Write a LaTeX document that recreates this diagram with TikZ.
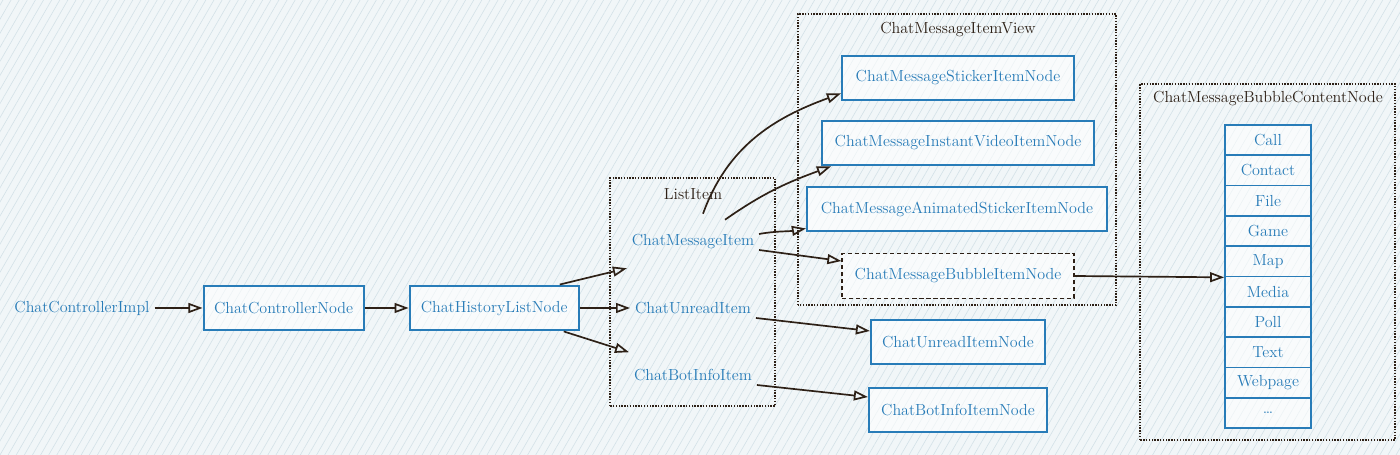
\documentclass[tikz,border=0pt]{standalone}
\usepackage{tikz}
\usetikzlibrary{arrows.meta,positioning,patterns.meta}
\definecolor{nodeblue}{RGB}{40,124,184}
\definecolor{inkdark}{RGB}{45,32,22}
\definecolor{paper}{RGB}{241,246,248}
\definecolor{hatch}{RGB}{212,226,232}

\begin{document}
\begin{tikzpicture}[font=\fontsize{11.4}{13.5}\selectfont]
        \tikzstyle{rectblock}=[rectangle, draw=nodeblue, line width=1.5pt, fill=white, fill opacity=0.6, text opacity=1, text=nodeblue, inner sep=0pt, minimum height=1.12cm]
        \tikzstyle{itemtext}=[text=nodeblue]
        \tikzstyle{cell}=[rectangle, draw=nodeblue, line width=1.2pt, fill=white, fill opacity=0.6, text opacity=1, text=nodeblue, minimum width=2.15cm, minimum height=0.7575cm, inner sep=0pt]
        \tikzstyle{group}=[draw=inkdark, densely dotted, line width=1pt]
        \tikzstyle{grouptitle}=[text=inkdark]
        \tikzstyle{link}=[-{Triangle[open,length=10pt,width=7pt]}, draw=inkdark, line width=1.2pt]

        % background
        \fill[paper] (0,0) rectangle (35,11.375);
        \fill[pattern={Lines[angle=60,distance=5pt,line width=0.45pt]}, pattern color=hatch] (0,0) rectangle (35,11.375);

        % groups
        \draw[group] (15.25,1.225) rectangle (19.375,6.925);
        \draw[group] (19.95,3.75) rectangle (27.9,11.025);
        \draw[group] (28.5,0.375) rectangle (34.875,9.275);
        \node[grouptitle] (listT) at (17.325,6.525) {ListItem};
        \node[grouptitle] (viewT) at (23.95,10.625) {ChatMessageItemView};
        \node[grouptitle] (contentT) at (31.7,8.9) {ChatMessageBubbleContentNode};

        % controller chain
        \node[itemtext] (impl) at (2.05,3.675) {ChatControllerImpl};
        \node[rectblock, minimum width=4cm, right = 1.2cm of impl] (ctrl) {ChatControllerNode};
        \node[rectblock, minimum width=4.225cm, right = 1.1cm of ctrl] (hist) {ChatHistoryListNode};

        % list items
        \node[itemtext] (mi) at (17.325,5.325) {ChatMessageItem};
        \node[itemtext] (ui) at (17.325,3.675) {ChatUnreadItem};
        \node[itemtext] (bi) at (17.325,2.0) {ChatBotInfoItem};

        % item nodes
        \node[rectblock, minimum width=5.8cm] (stick) at (23.95,9.425) {ChatMessageStickerItemNode};
        \node[rectblock, minimum width=6.8cm] (video) at (23.95,7.8) {ChatMessageInstantVideoItemNode};
        \node[rectblock, minimum width=7.5cm] (anim) at (23.925,6.15) {ChatMessageAnimatedStickerItemNode};
        \node[rectblock, draw=inkdark, line width=0.8pt, densely dashed, minimum width=5.8cm] (bubble) at (23.95,4.475) {ChatMessageBubbleItemNode};
        \node[rectblock, minimum width=4.35cm] (unode) at (23.95,2.825) {ChatUnreadItemNode};
        \node[rectblock, minimum width=4.45cm] (bnode) at (23.95,1.125) {ChatBotInfoItemNode};

        % bubble contents
        \foreach \kind [count=\i] in {Call,Contact,File,Game,Map,Media,Poll,Text,Webpage,\ldots}
          \node[cell] (c\i) at (31.7,{8.25-(\i-0.5)*0.7575}) {\kind};

        \draw[link] (impl) -- (ctrl);
        \draw[link] (ctrl) -- (hist);
        \draw[link] ([xshift=-0.5cm]hist.north east) -- ([yshift=-0.35cm]mi.south west);
        \draw[link] (hist.east) -- (ui.west);
        \draw[link] ([xshift=-0.4cm]hist.south east) -- ([yshift=0.3cm]bi.north west);
        \draw[link] ([xshift=0.25cm,yshift=0.4cm]mi.north) to[out=70,in=200] ([yshift=0.2cm]stick.south west);
        \draw[link] ([xshift=0.8cm,yshift=0.25cm]mi.north) to[out=35,in=200] ([xshift=0.25cm]video.south west);
        \draw[link] ([yshift=0.2cm]mi.east) to[out=10,in=190] ([yshift=0.1cm]anim.south west);
        \draw[link] ([yshift=-0.2cm]mi.east) -- ([yshift=-0.2cm]bubble.north west);
        \draw[link] ([yshift=-0.25cm]ui.east) -- ([yshift=0.275cm]unode.west);
        \draw[link] ([yshift=-0.25cm]bi.east) -- ([yshift=0.325cm]bnode.west);
        \draw[link] (bubble.east) -- (c5.south west);
      \end{tikzpicture}
\end{document}
